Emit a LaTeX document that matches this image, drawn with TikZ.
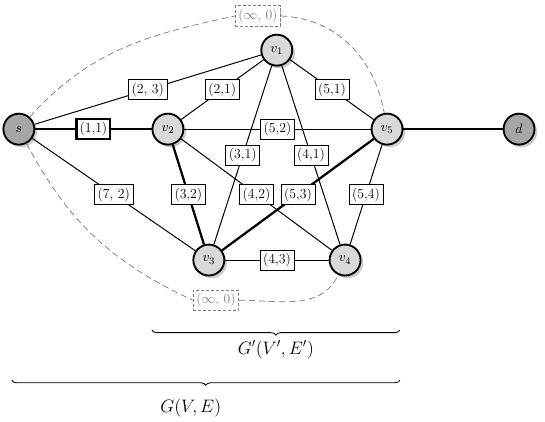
\documentclass[tikz,border=0pt]{standalone}
\usepackage{amsmath}
\usetikzlibrary{shadows,decorations.pathreplacing}
\begin{document}
\begin{tikzpicture}[x=1cm,y=1cm,line width=.8pt,font=\fontsize{11pt}{13pt}\selectfont,
  vtx/.style={circle,draw,line width=1.5pt,minimum size=.87cm,inner sep=0pt,fill=gray!30,drop shadow={opacity=.4}},
  term/.style={vtx,fill=gray!70},
  wt/.style={draw,fill=white,inner xsep=2.5pt,inner ysep=2.6pt,line width=.6pt},
  inf/.style={draw=gray,text=gray,dash pattern=on 2.5pt off 1.5pt,fill=white,inner xsep=2.5pt,inner ysep=2.6pt,line width=.6pt},
  heavy/.style={line width=1.8pt},
  bypass/.style={gray,dash pattern=on 5pt off 3pt,line width=.6pt},
  gbrace/.style={decorate,decoration={brace,mirror,amplitude=4pt},line width=.7pt}]
\useasboundingbox (-.53,-8.21) rectangle (14.79,3.63);
\node[term] (s) at (0,0) {$s$};
\node[vtx] (v1) at (7.25,2.22) {$v_1$};
\node[vtx] (v2) at (4.19,0) {$v_2$};
\node[vtx] (v3) at (5.34,-3.68) {$v_3$};
\node[vtx] (v4) at (9.17,-3.68) {$v_4$};
\node[vtx] (v5) at (10.35,0) {$v_5$};
\node[term] (d) at (14.06,0) {$d$};
\node[inf] (infa) at (6.72,3.18) {($\infty$, 0)};
\node[inf] (infb) at (5.54,-4.81) {($\infty$, 0)};
\draw[bypass] (s) to[out=48,in=192] (infa.west) (infa.east) to[out=-2,in=100] (v5);
\draw[bypass] (s) to[out=-62,in=155] (infb.west) (infb.east) to[out=0,in=245] (v4);
\draw (s)--node[wt]{(2, 3)}(v1);
\draw[heavy] (s)--node[wt,line width=1.8pt]{(1,1)}(v2);
\draw (s)--node[wt]{(7, 2)}(v3);
\draw (v2)--node[wt]{(2,1)}(v1);
\draw (v2)--node[wt]{(5,2)}(v5);
\draw[heavy] (v2)--node[wt]{(3,2)}(v3);
\draw (v2)--node[wt]{(4,2)}(v4);
\draw (v1)--node[wt]{(5,1)}(v5);
\draw (v1)--node[wt]{(3,1)}(v3);
\draw (v1)--node[wt]{(4,1)}(v4);
\draw[heavy] (v5)--node[wt]{(5,3)}(v3);
\draw (v5)--node[wt]{(5,4)}(v4);
\draw (v3)--node[wt]{(4,3)}(v4);
\draw[heavy] (v5)--(d);
\draw[gbrace] (3.74,-5.65)--node[below=5pt,font=\Large]{$G'(V',E')$}(10.71,-5.65);
\draw[gbrace] (-.2,-7.06)--node[below=11pt,xshift=-12pt,font=\Large]{$G(V,E)$}(10.71,-7.06);
\end{tikzpicture}
\end{document}
